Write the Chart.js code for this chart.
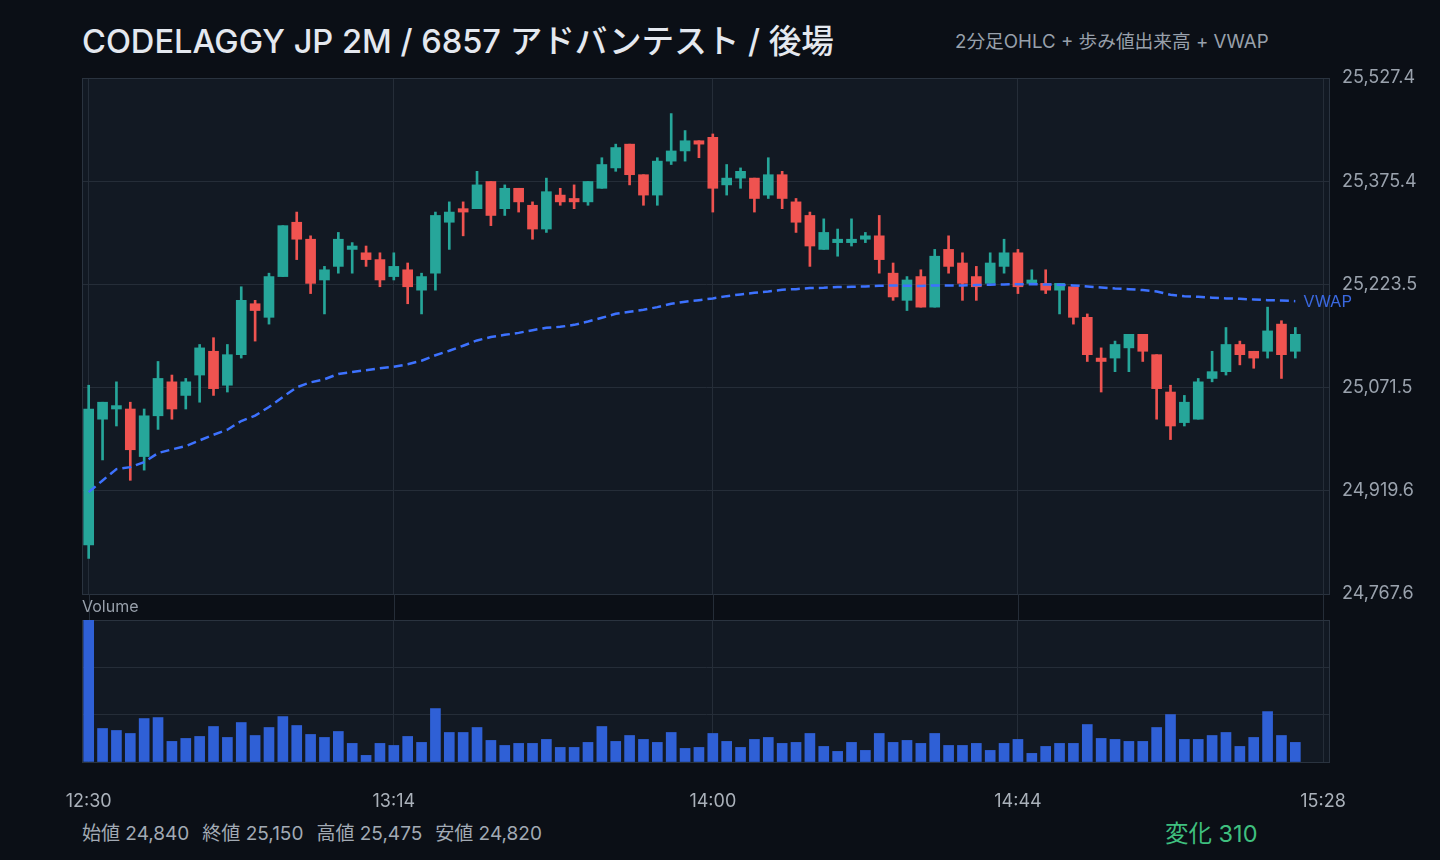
<!DOCTYPE html>
<html lang="ja">
<head>
<meta charset="utf-8">
<title>CODELAGGY JP 2M / 6857 アドバンテスト / 後場</title>
<script src="https://cdn.jsdelivr.net/npm/chart.js@4.4.1/dist/chart.umd.min.js"></script>
<style>
  html, body { margin: 0; padding: 0; background: #0b0f16; }
  body {
    width: 1440px; height: 860px; position: relative; overflow: hidden;
    font-family: Inter, "Noto Sans CJK JP", sans-serif;
  }
  .title { position: absolute; left: 82px; top: 15px; font-size: 32.6px; font-weight: 500; color: #e4e8ef; white-space: nowrap; }
  .subtitle { position: absolute; left: 955px; top: 26px; font-size: 18.7px; color: #98a0ab; white-space: nowrap; }
  #price-chart { position: absolute; left: 0; top: 0; }
  #volume-chart { position: absolute; left: 0; top: 594px; }
  .vol-label { position: absolute; left: 82px; top: 596px; font-size: 16px; color: #98a0ab; }
  #vwap-label { position: absolute; font-size: 16.5px; color: #3a68e0; transform: translateY(-50%); white-space: nowrap; }
  .stats { position: absolute; left: 82px; top: 818px; font-size: 19px; color: #a2aab4; white-space: nowrap; }
  .stats span { margin-right: 13px; }
  .change { position: absolute; left: 1165px; top: 815px; font-size: 23.5px; color: #3fbf7f; white-space: nowrap; }
</style>
</head>
<body>
<div class="title">CODELAGGY JP 2M / 6857 アドバンテスト / 後場</div>
<div class="subtitle">2分足OHLC + 歩み値出来高 + VWAP</div>
<canvas id="price-chart" width="1440" height="620"></canvas>
<canvas id="volume-chart" width="1440" height="218"></canvas>
<div class="vol-label">Volume</div>
<div id="vwap-label">VWAP</div>
<div class="stats"><span>始値 24,840</span><span>終値 25,150</span><span>高値 25,475</span><span>安値 24,820</span></div>
<div class="change">変化 310</div>

<script>
// 2分足 12:30 〜 15:24 (88本)
const opens = [
  24840, 25025, 25040, 25040, 24970, 25030, 25080, 25060, 25090, 25125,
  25075, 25120, 25195, 25175, 25235, 25315, 25290, 25230, 25250, 25275,
  25270, 25260, 25235, 25245, 25215, 25240, 25315, 25335, 25335, 25375,
  25335, 25365, 25340, 25305, 25355, 25350, 25345, 25365, 25395, 25430,
  25385, 25355, 25405, 25420, 25435, 25440, 25370, 25380, 25380, 25355,
  25385, 25345, 25325, 25275, 25285, 25285, 25290, 25295, 25240, 25200,
  25235, 25190, 25275, 25255, 25235, 25225, 25250, 25270, 25225, 25225,
  25215, 25220, 25175, 25115, 25115, 25130, 25150, 25120, 25065, 25020,
  25025, 25085, 25095, 25135, 25125, 25125, 25165, 25125
];
const highs = [
  25075, 25050, 25080, 25050, 25040, 25110, 25090, 25085, 25135, 25145,
  25135, 25220, 25200, 25240, 25310, 25330, 25295, 25250, 25300, 25285,
  25280, 25270, 25270, 25255, 25240, 25330, 25345, 25345, 25390, 25375,
  25370, 25365, 25345, 25380, 25365, 25370, 25375, 25410, 25430, 25430,
  25385, 25410, 25475, 25450, 25435, 25445, 25400, 25395, 25380, 25410,
  25390, 25350, 25330, 25320, 25305, 25320, 25300, 25325, 25255, 25235,
  25245, 25275, 25295, 25270, 25250, 25270, 25290, 25275, 25245, 25245,
  25225, 25220, 25180, 25130, 25140, 25150, 25150, 25120, 25075, 25060,
  25085, 25125, 25160, 25140, 25125, 25190, 25170, 25160
];
const lows = [
  24820, 24965, 25015, 24935, 24950, 25010, 25025, 25040, 25050, 25060,
  25065, 25115, 25140, 25165, 25235, 25260, 25210, 25180, 25240, 25240,
  25250, 25220, 25230, 25195, 25180, 25215, 25275, 25295, 25335, 25310,
  25325, 25330, 25290, 25300, 25340, 25335, 25340, 25365, 25390, 25370,
  25340, 25340, 25400, 25405, 25410, 25330, 25355, 25365, 25330, 25350,
  25335, 25300, 25250, 25275, 25265, 25280, 25285, 25240, 25200, 25185,
  25190, 25190, 25240, 25200, 25200, 25225, 25240, 25210, 25225, 25210,
  25180, 25165, 25110, 25065, 25095, 25095, 25110, 25025, 24995, 25015,
  25025, 25080, 25090, 25105, 25100, 25115, 25085, 25115
];
const closes = [
  25040, 25050, 25045, 24980, 25030, 25085, 25040, 25080, 25130, 25070,
  25120, 25200, 25185, 25235, 25310, 25290, 25225, 25245, 25290, 25280,
  25260, 25230, 25250, 25220, 25235, 25325, 25330, 25330, 25370, 25325,
  25365, 25345, 25305, 25360, 25345, 25345, 25375, 25400, 25425, 25385,
  25355, 25405, 25420, 25435, 25430, 25365, 25380, 25390, 25350, 25385,
  25350, 25315, 25280, 25300, 25290, 25290, 25295, 25260, 25205, 25230,
  25190, 25265, 25250, 25225, 25220, 25255, 25270, 25220, 25230, 25215,
  25225, 25175, 25120, 25110, 25135, 25150, 25125, 25070, 25015, 25050,
  25080, 25095, 25135, 25120, 25115, 25155, 25120, 25150
];
// 歩み値出来高 (千株)
const volumes = [
  300.0, 70.8, 66.6, 60.3, 91.8, 93.9, 43.5, 49.8, 54.0, 75.0,
  51.9, 83.4, 56.0, 72.9, 96.0, 77.1, 58.2, 51.9, 64.5, 39.3,
  14.0, 39.3, 35.0, 54.0, 41.4, 112.9, 62.4, 62.4, 72.9, 45.6,
  35.0, 39.3, 39.3, 47.7, 30.8, 30.8, 41.4, 75.0, 43.5, 56.0,
  47.7, 41.4, 62.4, 28.7, 30.8, 60.3, 43.5, 30.8, 47.7, 51.9,
  39.3, 41.4, 60.3, 32.9, 22.4, 41.4, 24.5, 60.3, 41.4, 45.6,
  39.3, 60.3, 35.0, 35.0, 39.3, 24.5, 39.3, 47.7, 18.2, 32.9,
  39.3, 39.3, 79.2, 49.8, 47.7, 43.5, 43.5, 72.9, 100.2, 47.7,
  47.7, 56.0, 62.4, 32.9, 51.9, 106.5, 56.0, 41.4
];
const vwap = [
  24917.6, 24934.8, 24951.5, 24954.4, 24961.8, 24975.1, 24980.5, 24985.4, 24993.8, 25002.1,
  25009.5, 25022.3, 25030.2, 25043.0, 25057.7, 25072.0, 25079.3, 25083.8, 25091.6, 25094.6,
  25097.1, 25100.0, 25102.2, 25105.9, 25111.1, 25119.2, 25125.8, 25133.2, 25141.0, 25146.0,
  25149.2, 25152.1, 25156.1, 25159.5, 25161.0, 25163.9, 25168.8, 25174.3, 25180.2, 25183.1,
  25186.1, 25190.0, 25194.9, 25197.9, 25200.3, 25202.8, 25206.2, 25208.7, 25211.1, 25213.1,
  25215.6, 25216.5, 25218.0, 25218.5, 25219.5, 25220.0, 25220.5, 25221.5, 25222.0, 25221.5,
  25221.0, 25222.0, 25222.0, 25222.0, 25222.5, 25223.0, 25223.5, 25223.7, 25223.9, 25223.4,
  25223.0, 25222.0, 25220.5, 25219.0, 25217.5, 25216.5, 25215.1, 25213.1, 25208.2, 25206.2,
  25205.2, 25203.8, 25202.8, 25202.3, 25201.3, 25200.3, 25199.8, 25198.8
];
// x軸目盛 (足の番号 → 時刻)
const timeTickIndex = [0, 22, 45, 67, 89];
const timeTickLabels = ["12:30", "13:14", "14:00", "14:44", "15:28"];
// 価格軸目盛
const priceTicks = [24767.6, 24919.56, 25071.52, 25223.48, 25375.44, 25527.4];
const volumeTicks = [0, 100, 200, 300];

(function () {
  "use strict";

  const UP = "#26a69a";
  const DOWN = "#ef5350";
  const GRID = "#252d38";
  const PANEL = "#121923";
  const FONT = 'Inter, "Noto Sans CJK JP", sans-serif';

  Chart.defaults.font.family = FONT;

  // パネル背景と枠線
  const panelPlugin = {
    id: "panel",
    beforeDraw(chart) {
      const { ctx, chartArea: a } = chart;
      ctx.save();
      ctx.fillStyle = PANEL;
      ctx.fillRect(a.left, a.top, a.right - a.left, a.bottom - a.top);
      ctx.restore();
    },
    beforeDatasetsDraw(chart) {
      const { ctx, chartArea: a } = chart;
      ctx.save();
      ctx.strokeStyle = "#2a333f";
      ctx.lineWidth = 1;
      ctx.strokeRect(a.left - 0.5, a.top + 0.5, a.right - a.left, a.bottom - a.top);
      ctx.restore();
    },
  };

  // 出来高パネル上の隙間にも縦グリッドを延長
  const gapGridPlugin = {
    id: "gapGrid",
    beforeDraw(chart) {
      const { ctx, chartArea: a, scales } = chart;
      ctx.save();
      ctx.strokeStyle = GRID;
      ctx.lineWidth = 1;
      for (const v of timeTickIndex) {
        const px = Math.round(scales.x.getPixelForValue(v)) + 0.5;
        ctx.beginPath();
        ctx.moveTo(px, 0);
        ctx.lineTo(px, a.top);
        ctx.stroke();
      }
      ctx.restore();
    },
  };

  // VWAPラベルを線の終端に置く
  const vwapLabelPlugin = {
    id: "vwapLabel",
    afterRender(chart) {
      const last = vwap.length - 1;
      const el = document.getElementById("vwap-label");
      el.style.left = chart.scales.x.getPixelForValue(last) + 8 + "px";
      el.style.top = chart.scales.y.getPixelForValue(vwap[last]) + "px";
    },
  };

  function xScale(showLabels) {
    return {
      type: "linear",
      min: -0.41,
      max: 89.5,
      offset: false,
      grid: { color: GRID, drawTicks: false, offset: false },
      border: { display: false },
      afterBuildTicks: (scale) => {
        scale.ticks = timeTickIndex.map((v) => ({ value: v }));
      },
      afterFit: (scale) => {
        scale.height = showLabels ? 50 : 0;
      },
      ticks: {
        display: showLabels,
        padding: 29,
        color: "#aab1ba",
        font: { size: 18 },
        maxRotation: 0,
        callback: (v) => timeTickLabels[timeTickIndex.indexOf(v)],
      },
    };
  }

  function renderPrice() {
    const idx = opens.map((_, i) => i);
    const colors = idx.map((i) => (closes[i] >= opens[i] ? UP : DOWN));

    new Chart(document.getElementById("price-chart"), {
      type: "bar",
      data: {
        datasets: [
          {
            type: "line",
            label: "VWAP",
            data: idx.map((i) => ({ x: i, y: vwap[i] })),
            borderColor: "#3d72ff",
            borderWidth: 2.5,
            borderDash: [9, 5],
            pointRadius: 0,
            tension: 0,
            order: 0,
          },
          {
            label: "body",
            data: idx.map((i) => ({ x: i, y: [opens[i], closes[i]] })),
            backgroundColor: colors,
            barThickness: 10,
            grouped: false,
            borderWidth: 0,
            order: 1,
          },
          {
            label: "wick",
            data: idx.map((i) => ({ x: i, y: [lows[i], highs[i]] })),
            backgroundColor: colors,
            barThickness: 2,
            grouped: false,
            borderWidth: 0,
            order: 2,
          },
        ],
      },
      options: {
        responsive: false,
        animation: false,
        layout: { padding: { left: 83, top: 78, right: 0, bottom: 26 } },
        plugins: { legend: { display: false }, tooltip: { enabled: false } },
        scales: {
          x: xScale(false),
          y: {
            position: "right",
            min: priceTicks[0],
            max: priceTicks[priceTicks.length - 1],
            afterBuildTicks: (scale) => {
              scale.ticks = priceTicks.map((v) => ({ value: v }));
            },
            afterFit: (scale) => {
              scale.width = 110;
            },
            grid: { color: GRID, drawTicks: false },
            border: { display: false },
            ticks: {
              padding: 12,
              color: "#9aa2ad",
              font: { size: 18 },
              callback: (v) =>
                v.toLocaleString("en-US", {
                  minimumFractionDigits: 1,
                  maximumFractionDigits: 1,
                }),
            },
          },
        },
      },
      plugins: [panelPlugin, vwapLabelPlugin],
    });
  }

  function renderVolume() {
    new Chart(document.getElementById("volume-chart"), {
      type: "bar",
      data: {
        datasets: [
          {
            label: "Volume",
            data: volumes.map((v, i) => ({ x: i, y: v })),
            backgroundColor: "#2f60d6",
            barThickness: 10,
            borderWidth: 0,
          },
        ],
      },
      options: {
        responsive: false,
        animation: false,
        layout: { padding: { left: 83, top: 26, right: 0, bottom: 0 } },
        plugins: { legend: { display: false }, tooltip: { enabled: false } },
        scales: {
          x: xScale(true),
          y: {
            position: "right",
            min: 0,
            max: volumeTicks[volumeTicks.length - 1],
            afterBuildTicks: (scale) => {
              scale.ticks = volumeTicks.map((v) => ({ value: v }));
            },
            afterFit: (scale) => {
              scale.width = 110;
            },
            grid: { color: GRID, drawTicks: false },
            border: { display: false },
            ticks: { display: false },
          },
        },
      },
      plugins: [panelPlugin, gapGridPlugin],
    });
  }

  renderPrice();
  renderVolume();
})();
</script>
</body>
</html>
